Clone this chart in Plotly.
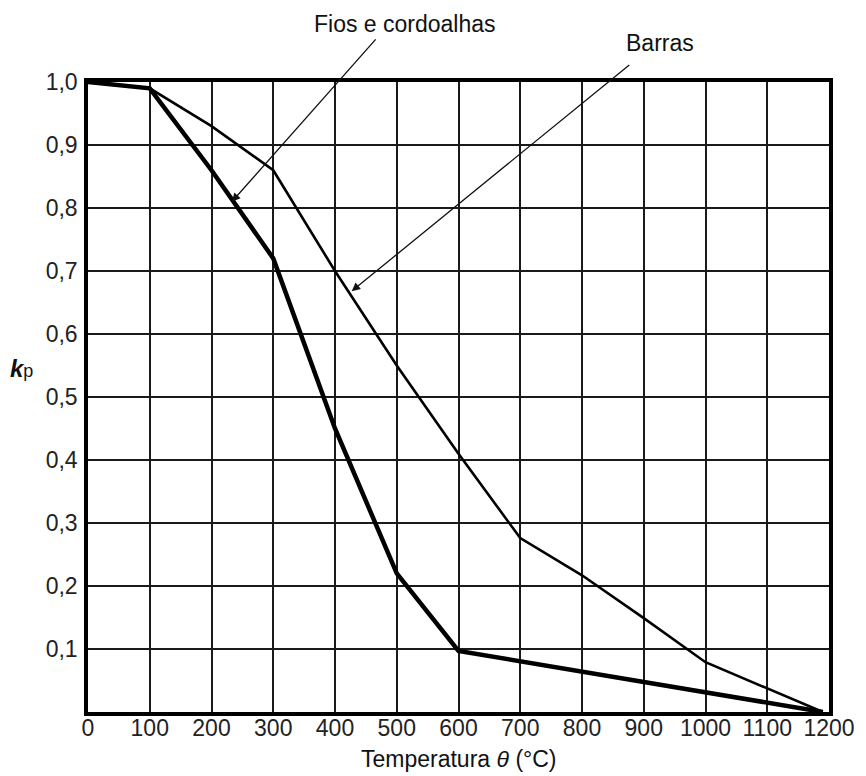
import plotly.graph_objects as go

# Data
temp_fios = [0, 100, 200, 300, 400, 500, 600, 1190]
kp_fios = [1.0, 0.99, 0.86, 0.72, 0.45, 0.22, 0.097, 0.0]

temp_barras = [0, 100, 200, 300, 400, 500, 600, 700, 800, 900, 1000, 1190]
kp_barras = [1.0, 0.99, 0.93, 0.86, 0.70, 0.55, 0.41, 0.276, 0.217, 0.149, 0.079, 0.0]

x_ticks = [0, 100, 200, 300, 400, 500, 600, 700, 800, 900, 1000, 1100, 1200]
x_ticktext = [str(v) for v in x_ticks]
y_ticks = [0.1, 0.2, 0.3, 0.4, 0.5, 0.6, 0.7, 0.8, 0.9, 1.0]
y_ticktext = ["0,1", "0,2", "0,3", "0,4", "0,5", "0,6", "0,7", "0,8", "0,9", "1,0"]

FONT = "Liberation Sans, Arial, sans-serif"
INK = "#111111"

fig = go.Figure()
fig.add_trace(go.Scatter(x=temp_barras, y=kp_barras, mode="lines",
                         line=dict(color="black", width=2.6), name="Barras",
                         cliponaxis=False))
fig.add_trace(go.Scatter(x=temp_fios, y=kp_fios, mode="lines",
                         line=dict(color="black", width=4.5), name="Fios e cordoalhas",
                         cliponaxis=False))

fig.update_layout(
    width=866, height=776,
    margin=dict(l=88, r=37, t=82, b=64),
    paper_bgcolor="white", plot_bgcolor="white",
    showlegend=False,
    font=dict(family=FONT, size=23, color=INK),
)
fig.update_xaxes(range=[0, 1200], tickvals=x_ticks, ticktext=x_ticktext,
                 showgrid=True, gridcolor="#1a1a1a", gridwidth=1.5,
                 showline=True, linecolor="black", linewidth=3.5, mirror=True,
                 ticks="", zeroline=False, ticklabelstandoff=-7,
                 tickfont=dict(family=FONT, size=23, color="#222222"))
fig.update_yaxes(range=[0, 1.0], tickvals=y_ticks, ticktext=y_ticktext,
                 showgrid=True, gridcolor="#1a1a1a", gridwidth=1.5,
                 showline=True, linecolor="black", linewidth=3.5, mirror=True,
                 ticks="", zeroline=False, ticklabelstandoff=2,
                 tickfont=dict(family=FONT, size=23, color="#222222"))

# Arrows
fig.add_annotation(x=233, y=0.81, ax=468, ay=1.07, axref="x", ayref="y",
                   xref="x", yref="y", text="", showarrow=True,
                   arrowhead=2, arrowsize=1.3, arrowwidth=1.3, arrowcolor="#111111",
                   standoff=0, startstandoff=0)
fig.add_annotation(x=427, y=0.668, ax=879, ay=1.029, axref="x", ayref="y",
                   xref="x", yref="y", text="", showarrow=True,
                   arrowhead=2, arrowsize=1.3, arrowwidth=1.3, arrowcolor="#111111",
                   standoff=0, startstandoff=0)

# Labels
fig.add_annotation(x=0.428, y=1.092, xref="paper", yref="paper", text="Fios e cordoalhas",
                   showarrow=False, xanchor="center", yanchor="middle",
                   font=dict(family=FONT, size=23, color=INK))
fig.add_annotation(x=0.772, y=1.062, xref="paper", yref="paper", text="Barras",
                   showarrow=False, xanchor="center", yanchor="middle",
                   font=dict(family=FONT, size=23, color=INK))

# Axis titles
fig.add_annotation(x=0.5, y=-0.075, xref="paper", yref="paper",
                   text="Temperatura <i>θ</i> (°C)", showarrow=False,
                   xanchor="center", yanchor="middle",
                   font=dict(family=FONT, size=23, color=INK))
fig.add_annotation(x=-0.09, y=0.546, xref="paper", yref="paper",
                   text="<b><i>k</i></b><span style='font-size:18px'>p</span>",
                   showarrow=False, xanchor="center", yanchor="middle",
                   font=dict(family=FONT, size=24, color=INK))

fig.write_html("out.html")
